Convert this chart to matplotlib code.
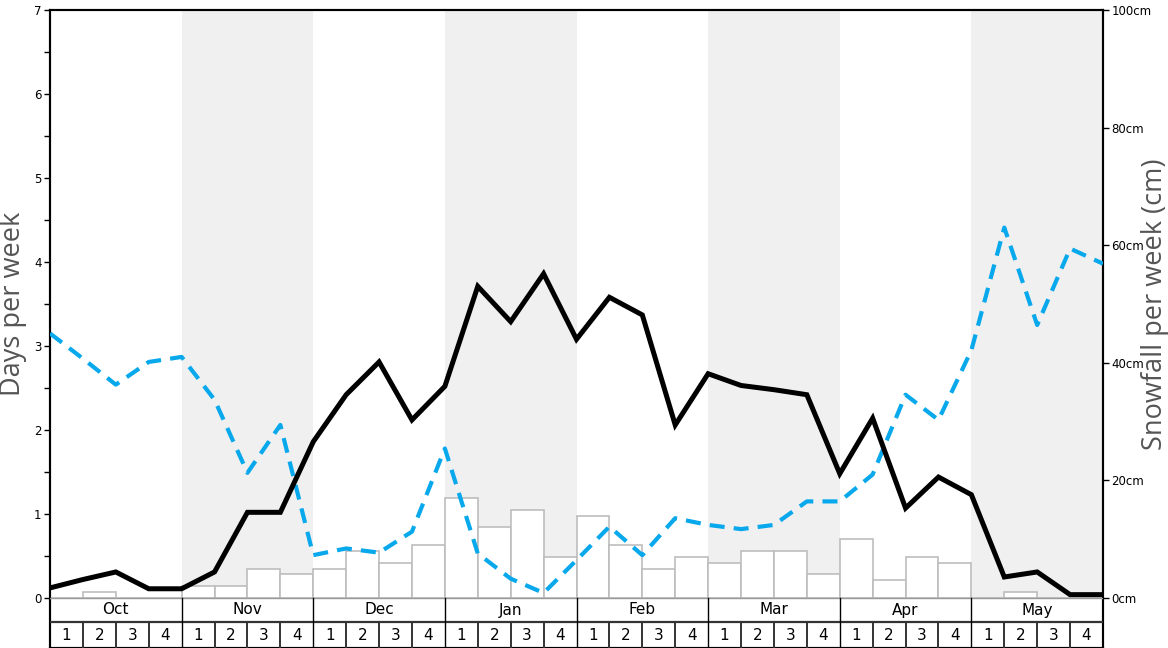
import numpy as np
import matplotlib.pyplot as plt
from matplotlib.ticker import FixedLocator

# Data ##############################################################
months = ["Oct", "Nov", "Dec", "Jan", "Feb", "Mar", "Apr", "May"]
week_labels = ["1", "2", "3", "4"]

# snowfall per week (cm), one bar per week
snowfall_cm = [0, 1, 0, 0, 2, 2, 5, 4, 5, 8, 6, 9, 17, 12, 15, 7,
               14, 9, 5, 7, 6, 8, 8, 4, 10, 3, 7, 6, 0, 1, 0, 0]

# days per week, one point per week boundary
black_days = [0.12, 0.22, 0.31, 0.11, 0.11, 0.31, 1.02, 1.02, 1.86, 2.42, 2.81,
              2.12, 2.52, 3.71, 3.29, 3.86, 3.08, 3.58, 3.37, 2.06, 2.67, 2.53,
              2.48, 2.42, 1.48, 2.14, 1.07, 1.44, 1.23, 0.25, 0.31, 0.04, 0.04]
blue_days = [3.15, 2.85, 2.54, 2.81, 2.87, 2.36, 1.49, 2.06, 0.51, 0.59, 0.54,
             0.79, 1.78, 0.53, 0.23, 0.06, 0.45, 0.85, 0.51, 0.95, 0.87, 0.82,
             0.87, 1.15, 1.15, 1.47, 2.42, 2.12, 2.95, 4.41, 3.25, 4.16, 3.98]

# Layout ############################################################
W, H = 1168, 648
n_weeks = len(snowfall_cm)
days_max = 7
cm_max = 100
table_px = 50  # height of the month / week strip below zero
ax_h_px = H - 10
ax_w_px = 1103 - 50
px_per_day = (ax_h_px - table_px) / days_max
days_min = -table_px / px_per_day
cm_min = days_min / days_max * cm_max
row_split = -24 / px_per_day
label_y = (table_px + (ax_h_px - table_px) / 2) / ax_h_px  # centre of 0..7 zone

fig = plt.figure(figsize=(W / 100, H / 100), dpi=100)
ax_cm = fig.add_axes([50 / W, 0, ax_w_px / W, ax_h_px / H])
ax_days = ax_cm.twinx()

# shaded alternate months
for m in range(1, len(months), 2):
    ax_cm.fill_between([m * 4, m * 4 + 4], 0, cm_max, color="#f0f0f0", lw=0, zorder=0)

# snowfall bars
x_bars = np.arange(n_weeks) + 0.5
ax_cm.bar(x_bars, snowfall_cm, width=1.0, color="white", edgecolor="#bdbdbd",
          linewidth=1.2, zorder=2)

ax_cm.set_xlim(0, n_weeks)
ax_cm.set_ylim(cm_min, cm_max)
ax_cm.yaxis.tick_right()
ax_cm.yaxis.set_label_position("right")
ax_cm.set_yticks(np.arange(0, cm_max + 1, 20))
ax_cm.set_yticklabels(["%dcm" % v for v in range(0, cm_max + 1, 20)])
ax_cm.tick_params(axis="y", labelsize=8.5, length=4, width=1, direction="out", pad=2)
ax_cm.set_ylabel("Snowfall per week (cm)", fontsize=19.5, color="#555555",
                 family="Open Sans", va="center", ha="center")
ax_cm.yaxis.set_label_coords(1 + (1155 - 1103) / ax_w_px, label_y)
ax_cm.set_xticks([])

# day lines
x_pts = np.arange(len(black_days))
ax_days.plot(x_pts, blue_days, color="#08a8ec", lw=3.0, dashes=(3.6, 2.2),
             zorder=3, solid_capstyle="butt")
ax_days.plot(x_pts, black_days, color="black", lw=3.6, zorder=4,
             solid_joinstyle="miter")
ax_days.set_ylim(days_min, days_max)
ax_days.set_xlim(0, n_weeks)
ax_days.yaxis.tick_left()
ax_days.yaxis.set_label_position("left")
ax_days.set_yticks(range(0, days_max + 1))
ax_days.yaxis.set_minor_locator(FixedLocator(np.arange(0.5, days_max, 1.0)))
ax_days.tick_params(axis="y", which="major", labelsize=8.5, length=4, width=1, pad=2)
ax_days.tick_params(axis="y", which="minor", length=4, width=1)
ax_days.set_ylabel("Days per week", fontsize=19.5, color="#555555",
                   family="Open Sans", va="center", ha="center")
ax_days.yaxis.set_label_coords(-(50 - 13) / ax_w_px, label_y)

# month / week strip
ax_days.axhline(0, color="#999999", lw=1.0, zorder=5)
ax_days.axhline(row_split, color="#333333", lw=1.6, zorder=5)
for m, name in enumerate(months):
    ax_days.text(m * 4 + 2, row_split / 2, name, ha="center", va="center",
                 fontsize=11, zorder=6)
    for w, lab in enumerate(week_labels):
        ax_days.text(m * 4 + w + 0.5, (row_split + days_min) / 2, lab,
                     ha="center", va="center", fontsize=11, zorder=6)
for k in range(1, n_weeks):
    if k % 4 == 0:
        ax_days.plot([k, k], [0, days_min], color="black", lw=1.0, zorder=5)
    else:
        ax_days.plot([k, k], [row_split, days_min], color="#333333", lw=1.4, zorder=5)

for a in (ax_cm, ax_days):
    for s in a.spines.values():
        s.set_linewidth(1.5)
        s.set_color("black")

fig.savefig("out.png", dpi=100)
